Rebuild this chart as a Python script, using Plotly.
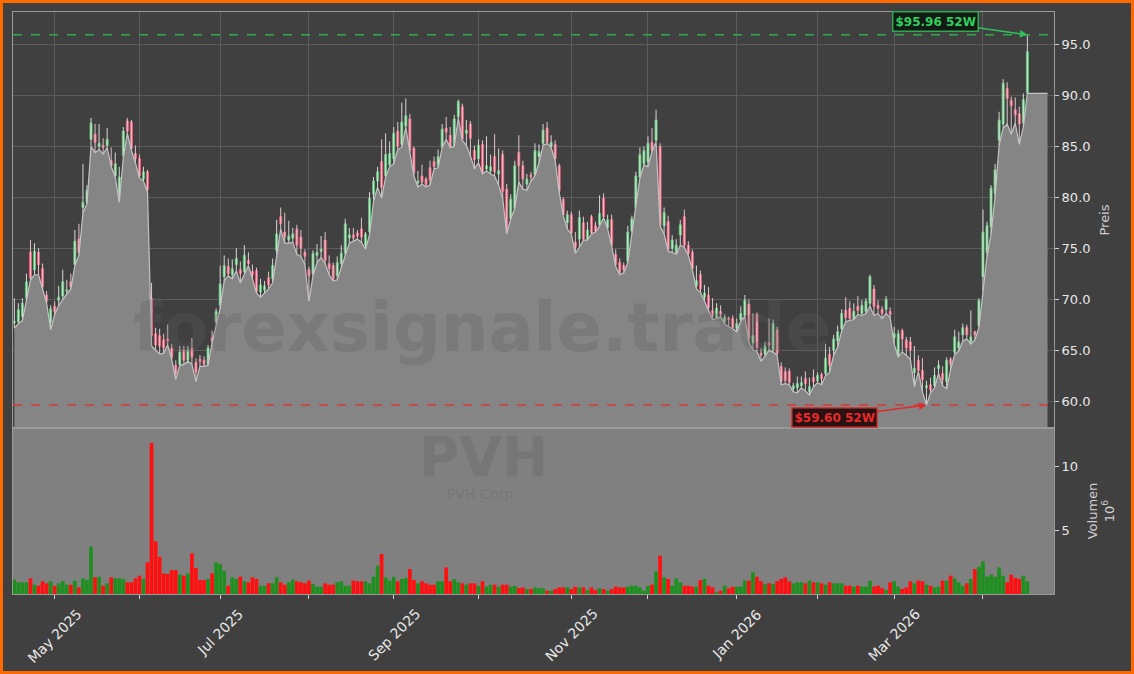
import pandas as pd
import plotly.graph_objects as go

# ---------------- data ----------------
start_date = "2025-04-16"
market_holidays = ["2025-04-18", "2025-05-26", "2025-06-19", "2025-07-04", "2025-09-01",
                   "2025-11-27", "2025-12-25", "2026-01-01", "2026-01-19", "2026-02-16",
                   "2026-04-03"]

opens = [67.7, 67.8, 68.3, 70.1, 74.6, 72.9, 74.6, 73.0, 70.4, 67.75, 69.3, 69.9, 70.3, 70.8, 71.7, 73.4, 75.9, 79.0, 79.5, 85.7,
         86.2, 85.0, 85.1, 85.1, 83.6, 82.1, 80.2, 84.1, 87.5, 87.4, 84.3, 83.8, 81.8, 82.5, 70.1, 66.6, 66.4, 66.0, 66.1, 65.2,
         63.5, 63.6, 65.0, 64.0, 65.2, 63.8, 64.1, 64.0, 63.6, 66.2, 67.8, 69.4, 72.2, 73.2, 72.4, 73.4, 72.9, 72.7, 73.8, 72.7,
         72.8, 70.7, 70.9, 72.1, 72.0, 74.8, 78.1, 76.6, 75.8, 76.0, 76.9, 76.1, 74.6, 72.9, 72.5, 74.3, 74.7, 75.8, 73.5, 73.3,
         72.3, 73.5, 74.5, 76.0, 76.3, 76.5, 76.9, 75.3, 76.6, 80.3, 81.6, 83.5, 82.1, 83.2, 83.8, 86.5, 85.2, 87.0, 87.7, 84.8,
         81.4, 82.1, 81.8, 82.9, 83.5, 83.1, 84.9, 86.8, 86.1, 85.1, 87.9, 88.9, 86.3, 87.2, 84.6, 83.8, 85.2, 82.8, 82.6, 84.0,
         82.3, 84.2, 80.8, 77.9, 78.9, 84.4, 83.1, 81.3, 82.2, 82.2, 84.0, 85.3, 86.8, 85.0, 85.2, 83.1, 79.8, 77.5, 78.3, 75.6,
         75.9, 77.5, 75.9, 78.1, 77.2, 77.3, 79.9, 77.0, 77.8, 74.4, 73.6, 73.3, 73.7, 76.7, 79.0, 82.0, 83.3, 83.5, 85.4, 85.6,
         85.0, 77.2, 77.6, 75.0, 74.6, 76.3, 78.1, 75.3, 74.6, 71.3, 72.4, 70.2, 70.4, 68.9, 68.2, 68.8, 67.8, 68.1, 68.1, 67.1,
         68.0, 68.4, 69.5, 65.7, 68.5, 64.7, 64.6, 65.7, 65.0, 67.0, 63.4, 62.9, 62.9, 61.2, 61.3, 61.5, 62.2, 60.9, 62.3, 62.0,
         62.6, 62.7, 64.6, 65.0, 65.9, 67.1, 68.9, 69.1, 68.1, 69.3, 68.6, 68.8, 69.6, 71.0, 69.4, 69.0, 69.0, 68.8, 66.2, 64.5,
         66.9, 66.0, 65.8, 62.8, 64.0, 63.0, 61.3, 61.6, 61.5, 63.2, 62.7, 61.9, 64.1, 64.8, 65.2, 66.5, 67.2, 65.8, 66.8, 67.4,
         72.2, 74.6, 77.1, 80.4, 85.6, 87.2, 90.7, 89.5, 88.6, 88.2, 87.3, 90.3]
highs = [70.1, 69.6, 70.1, 72.5, 75.8, 75.5, 75.0, 73.5, 70.8, 69.4, 69.8, 71.3, 72.9, 71.9, 72.5, 76.8, 77.4, 83.3, 81.2, 87.8,
         87.2, 87.2, 85.8, 86.8, 84.9, 84.4, 83.0, 86.9, 87.8, 87.6, 85.1, 84.2, 83.0, 82.7, 71.6, 67.2, 67.1, 66.6, 67.5, 65.6,
         64.0, 65.4, 65.4, 65.4, 66.2, 64.2, 64.5, 64.4, 65.5, 66.9, 69.1, 73.3, 74.3, 74.0, 73.9, 75.0, 73.7, 75.3, 74.6, 73.4,
         73.1, 72.0, 71.8, 72.7, 74.0, 77.8, 79.0, 78.5, 77.7, 77.0, 77.3, 76.8, 74.9, 73.2, 74.8, 75.4, 76.2, 76.6, 74.3, 73.6,
         74.2, 75.3, 77.9, 77.0, 77.0, 76.8, 78.0, 76.6, 80.5, 82.0, 83.0, 85.7, 86.3, 85.5, 86.9, 87.4, 89.3, 89.7, 88.2, 85.0,
         82.6, 83.2, 82.0, 83.6, 84.0, 84.7, 87.2, 87.9, 86.9, 88.1, 89.6, 89.2, 87.6, 87.5, 85.1, 85.7, 85.6, 86.0, 84.2, 86.2,
         84.8, 84.6, 81.3, 80.3, 83.6, 86.1, 83.6, 82.3, 82.5, 85.3, 85.2, 87.2, 87.4, 86.1, 85.6, 83.3, 80.0, 78.7, 78.6, 76.6,
         78.7, 78.1, 77.6, 78.3, 77.6, 80.2, 80.4, 78.3, 78.3, 74.9, 74.0, 73.6, 77.2, 78.2, 82.5, 84.9, 85.0, 86.0, 86.8, 88.6,
         85.3, 79.0, 78.2, 76.3, 75.9, 77.8, 78.8, 75.7, 74.9, 73.3, 72.8, 71.4, 71.2, 70.1, 69.6, 69.4, 68.5, 68.3, 68.4, 68.1,
         69.3, 70.4, 70.0, 68.6, 68.7, 65.2, 65.8, 68.1, 68.0, 67.3, 63.8, 63.3, 63.2, 61.8, 62.4, 62.4, 62.9, 62.3, 63.1, 62.8,
         62.8, 65.6, 65.3, 66.5, 67.4, 69.0, 70.2, 69.8, 69.6, 70.3, 69.9, 70.1, 72.4, 71.4, 69.9, 69.3, 70.3, 69.2, 67.3, 67.0,
         67.1, 66.3, 66.3, 65.4, 64.5, 64.2, 62.0, 62.3, 63.3, 64.0, 63.4, 64.3, 64.3, 67.0, 66.8, 67.6, 67.5, 68.9, 66.9, 70.1,
         78.8, 77.6, 81.2, 83.3, 88.4, 91.6, 91.3, 89.9, 89.8, 88.9, 90.2, 95.96]
lows = [67.15, 67.6, 67.9, 69.9, 71.9, 72.4, 72.4, 71.0, 69.6, 67.0, 68.5, 69.4, 70.0, 70.5, 71.0, 73.3, 74.3, 78.5, 79.35, 85.0,
        84.4, 84.7, 84.25, 84.9, 83.0, 82.0, 79.5, 83.9, 86.3, 84.6, 83.4, 81.9, 81.6, 80.5, 65.4, 65.0, 64.6, 64.7, 65.5, 64.1,
        62.1, 63.5, 63.6, 63.9, 63.6, 61.9, 63.4, 63.4, 63.5, 65.7, 67.5, 69.1, 71.8, 72.3, 72.0, 72.8, 71.6, 72.5, 73.3, 72.0,
        70.6, 70.2, 70.6, 71.0, 71.6, 74.3, 76.9, 75.5, 75.5, 75.6, 74.4, 74.2, 73.4, 69.8, 72.3, 73.6, 74.1, 73.5, 72.4, 71.8,
        71.9, 73.1, 74.2, 75.5, 75.7, 75.9, 75.6, 74.9, 76.3, 79.6, 81.0, 79.9, 82.0, 83.0, 83.3, 84.7, 84.9, 86.9, 84.4, 82.1,
        81.0, 81.3, 81.0, 81.2, 82.8, 82.9, 84.9, 85.7, 84.9, 85.0, 87.8, 85.6, 85.1, 84.1, 82.8, 83.4, 82.3, 82.6, 82.3, 82.1,
        81.2, 79.9, 76.4, 77.9, 78.9, 81.5, 80.8, 80.7, 81.6, 82.1, 83.4, 85.1, 85.3, 84.9, 83.6, 80.5, 78.2, 76.9, 76.4, 74.5,
        75.1, 75.8, 75.8, 76.4, 76.6, 77.2, 78.0, 76.9, 75.2, 73.2, 72.4, 72.6, 73.6, 76.5, 78.9, 81.9, 83.2, 83.0, 84.5, 85.4,
        77.2, 76.4, 74.7, 74.6, 74.4, 75.3, 75.1, 74.3, 72.9, 71.0, 70.7, 69.8, 68.9, 68.0, 68.1, 68.3, 67.6, 67.3, 67.1, 66.8,
        67.9, 68.3, 65.8, 65.0, 64.9, 63.9, 64.4, 65.0, 64.8, 64.5, 61.6, 61.7, 61.6, 60.9, 60.8, 61.3, 61.0, 60.6, 61.4, 61.8,
        61.6, 62.5, 62.8, 64.5, 65.3, 66.9, 67.8, 67.9, 68.0, 68.5, 68.4, 68.6, 69.3, 68.4, 68.6, 68.1, 68.6, 68.2, 65.6, 64.3,
        64.8, 64.5, 64.1, 61.4, 62.9, 60.9, 59.6, 60.8, 61.3, 62.7, 61.5, 61.2, 63.1, 64.6, 64.9, 65.9, 66.1, 65.6, 66.0, 67.2,
        70.8, 74.2, 76.4, 80.0, 85.1, 86.8, 87.2, 86.2, 87.3, 85.2, 86.9, 90.2]
closes = [67.8, 68.95, 69.6, 71.7, 72.1, 74.7, 73.4, 71.2, 69.8, 69.05, 68.8, 70.2, 71.7, 70.9, 71.2, 75.7, 74.6, 79.5, 80.7, 87.3,
          85.4, 85.3, 84.9, 85.7, 83.1, 83.3, 82.0, 86.5, 86.5, 84.8, 83.8, 82.1, 82.5, 80.8, 66.4, 65.5, 65.4, 65.2, 65.9, 64.3,
          62.7, 64.8, 64.0, 65.0, 64.3, 62.8, 63.9, 63.6, 65.2, 65.9, 68.8, 71.5, 73.3, 72.5, 73.0, 74.0, 72.5, 74.3, 73.5, 72.4,
          70.7, 71.4, 71.3, 71.4, 73.3, 76.4, 77.4, 76.1, 76.2, 76.4, 75.3, 75.0, 74.2, 72.3, 74.5, 74.6, 74.9, 73.8, 73.0, 72.0,
          73.6, 74.5, 77.4, 76.3, 76.0, 76.2, 76.1, 76.4, 79.9, 81.6, 82.5, 81.0, 84.2, 84.3, 86.3, 85.0, 87.4, 88.0, 84.6, 82.4,
          81.6, 81.5, 81.2, 81.7, 83.0, 84.0, 86.7, 86.4, 85.0, 87.7, 89.4, 85.7, 86.6, 85.8, 83.7, 85.1, 82.5, 83.1, 83.0, 82.5,
          82.6, 80.6, 76.6, 79.8, 83.1, 83.1, 81.8, 81.8, 82.0, 84.6, 84.5, 86.6, 85.4, 85.4, 83.8, 80.6, 78.3, 78.3, 76.5, 75.1,
          78.0, 75.9, 76.8, 76.5, 76.7, 78.4, 78.1, 77.8, 75.3, 73.4, 72.6, 72.9, 76.6, 77.9, 82.1, 84.2, 84.6, 85.3, 84.6, 87.6,
          77.3, 78.5, 74.9, 75.8, 75.3, 77.3, 75.3, 74.5, 73.0, 71.8, 71.0, 70.6, 69.2, 68.4, 69.1, 68.5, 68.2, 68.0, 67.2, 67.6,
          68.6, 69.9, 66.1, 66.4, 65.2, 64.5, 65.4, 65.5, 67.6, 64.7, 61.9, 62.0, 61.8, 61.5, 61.7, 61.8, 61.7, 61.4, 61.9, 62.5,
          62.2, 64.2, 63.5, 66.1, 66.8, 68.6, 68.2, 68.1, 68.8, 68.9, 69.4, 69.8, 72.2, 69.3, 69.1, 68.6, 70.0, 68.5, 66.6, 66.6,
          66.1, 65.2, 65.0, 63.2, 63.0, 62.1, 61.5, 61.1, 62.5, 63.5, 62.1, 64.0, 63.6, 66.3, 65.8, 67.2, 66.5, 66.3, 66.5, 69.9,
          76.6, 77.2, 80.9, 82.7, 87.6, 91.2, 89.7, 89.0, 88.1, 87.2, 89.6, 94.3]
volume_mio = [1.13, 0.92, 0.92, 0.92, 1.23, 0.73, 0.65, 1.0, 0.84, 1.0, 0.65, 0.84, 1.0, 0.73, 0.73, 1.05, 0.52, 1.23, 1.1, 3.74,
              1.31, 1.36, 0.65, 0.84, 1.31, 1.23, 1.23, 1.18, 0.92, 0.92, 1.23, 1.44, 1.18, 2.49, 11.86, 4.14, 2.93, 1.62, 1.57, 1.88,
              1.88, 1.52, 1.44, 1.62, 3.19, 2.04, 1.1, 1.1, 1.18, 1.62, 2.49, 2.36, 1.83, 0.65, 1.31, 1.18, 1.36, 1.0, 0.92, 1.31,
              1.18, 0.65, 0.65, 0.84, 0.84, 1.31, 0.92, 0.73, 0.92, 1.13, 1.0, 0.92, 0.84, 1.05, 0.79, 0.58, 0.58, 0.84, 0.73, 0.73,
              0.92, 1.0, 0.65, 0.65, 1.05, 1.0, 1.0, 1.0, 0.84, 1.36, 2.23, 3.14, 1.31, 1.05, 1.36, 1.0, 1.18, 1.26, 1.96, 1.1,
              0.84, 1.0, 0.84, 0.73, 0.73, 1.0, 1.0, 2.09, 1.0, 1.18, 0.92, 0.84, 0.73, 0.84, 0.84, 0.65, 1.0, 0.58, 0.73, 0.73,
              0.58, 0.73, 0.73, 0.58, 0.65, 0.47, 0.52, 0.39, 0.39, 0.52, 0.45, 0.45, 0.26, 0.26, 0.39, 0.52, 0.52, 0.52, 0.39, 0.58,
              0.52, 0.52, 0.31, 0.52, 0.31, 0.45, 0.39, 0.26, 0.39, 0.58, 0.52, 0.52, 0.58, 0.65, 0.65, 0.52, 0.26, 0.65, 0.73, 1.78,
              3.01, 1.31, 1.18, 0.65, 1.23, 0.92, 0.65, 0.65, 0.58, 0.58, 1.1, 1.18, 0.65, 0.52, 0.13, 0.26, 0.65, 0.45, 0.58, 0.58,
              0.58, 1.05, 1.05, 1.7, 1.36, 1.0, 0.79, 0.84, 0.79, 1.0, 1.18, 1.31, 1.0, 0.84, 0.92, 0.92, 0.84, 1.05, 0.92, 0.92,
              0.84, 0.73, 0.92, 0.84, 0.84, 0.84, 0.65, 0.65, 0.58, 0.65, 0.58, 0.58, 1.05, 0.58, 0.65, 0.45, 0.31, 0.92, 1.0, 0.58,
              0.39, 0.52, 1.0, 0.84, 1.05, 1.0, 0.73, 0.65, 0.52, 0.58, 1.05, 1.05, 1.44, 1.23, 0.92, 0.65, 0.84, 1.18, 1.96, 2.15,
              2.57, 1.36, 1.52, 1.36, 2.09, 1.44, 0.92, 1.52, 1.26, 1.18, 1.44, 1.0]
high_52w = 95.96
low_52w = 59.60
price_ticks = [60, 65, 70, 75, 80, 85, 90, 95]
volume_ticks = [5, 10]

# ---------------- derived ----------------
n = len(closes)
dates = pd.bdate_range(start=start_date, periods=n, freq="C", holidays=market_holidays)
idx = list(range(n))

month_starts = []
prev = None
for i, d in enumerate(dates):
    key = (d.year, d.month)
    if prev is not None and key != prev:
        month_starts.append(i)
    prev = key
major_ticks = [i for i in month_starts if dates[i].month % 2 == 1]
major_text = [dates[i].strftime("%b %Y") for i in major_ticks]
minor_ticks = [i for i in month_starts if dates[i].month % 2 == 0]

body_hi = [max(o, c) for o, c in zip(opens, closes)]
body_lo = [min(o, c) for o, c in zip(opens, closes)]
vol_colors = ["#1f8f1f" if c >= o else "#ff1010" for o, c in zip(opens, closes)]
area_x = idx + [n - 1 + 5]
area_y = lows + [lows[-1]]
hi_i = highs.index(max(highs))
lo_i = lows.index(min(lows))

BG = "#404040"
FILL = "#858585"
GRID = "#5c5c5c"
TXT = "#e8e8e8"
FONT = "DejaVu Sans"

fig = go.Figure()
fig.add_trace(go.Scatter(x=area_x, y=area_y, mode="lines", fill="tozeroy", fillcolor=FILL,
                         line=dict(color="#c4c4c4", width=1.2), hoverinfo="skip"))
fig.add_trace(go.Ohlc(x=idx, open=opens, high=highs, low=lows, close=closes, tickwidth=0,
                      increasing=dict(line=dict(color="#d6d6d6", width=1)),
                      decreasing=dict(line=dict(color="#e0c4ca", width=1))))
fig.add_trace(go.Candlestick(x=idx, open=opens, high=body_hi, low=body_lo, close=closes,
                             increasing=dict(line=dict(color="#4cc46a", width=1), fillcolor="#c6ecca"),
                             decreasing=dict(line=dict(color="#f05a78", width=1), fillcolor="#f6a3b4"),
                             whiskerwidth=0))
fig.add_trace(go.Bar(x=idx, y=volume_mio, marker=dict(color=vol_colors, line=dict(width=0)),
                     width=0.92, xaxis="x2", yaxis="y2"))

W, H = 1134, 674
ml, mr, mt, mb = 13, 80, 12, 80
pw, ph = W - ml - mr, H - mt - mb
split = 166 / ph

fig.update_layout(
    template="none",
    width=W, height=H, margin=dict(l=ml, r=mr, t=mt, b=mb, autoexpand=False),
    paper_bgcolor=BG, plot_bgcolor=BG, showlegend=False,
    font=dict(family=FONT, color=TXT, size=13),
    xaxis=dict(domain=[0, 1], anchor="y", range=[-0.33, 257.6], tickvals=major_ticks,
               showticklabels=False, ticks="", showgrid=True, gridcolor=GRID, gridwidth=1,
               minor=dict(tickvals=minor_ticks, showgrid=True, gridcolor=GRID, gridwidth=1, ticks=""),
               zeroline=False, showline=True, linecolor="#9a9a9a", mirror=True, automargin=False,
               rangeslider=dict(visible=False)),
    yaxis=dict(domain=[split, 1], anchor="x", side="right", range=[57.35, 98.2],
               tickvals=price_ticks, tickformat=".1f", ticks="outside", ticklen=4,
               tickcolor="#d0d0d0", tickfont=dict(size=13, color=TXT),
               showgrid=True, gridcolor=GRID, zeroline=False, showline=True,
               linecolor="#9a9a9a", mirror=True, automargin=False,
               title=dict(text="Preis", font=dict(size=13, color="#cfcfcf"), standoff=10)),
    xaxis2=dict(domain=[0, 1], anchor="y2", matches="x", range=[-0.33, 257.6],
                tickvals=major_ticks, showticklabels=False,
                ticks="outside", ticklen=4, tickcolor="#d0d0d0",
                minor=dict(tickvals=minor_ticks, ticks="outside", ticklen=4, tickcolor="#d0d0d0",
                           showgrid=False),
                showgrid=False, zeroline=False,
                showline=True, linecolor="#9a9a9a", mirror=True, automargin=False,
                rangeslider=dict(visible=False)),
    yaxis2=dict(domain=[0, split], anchor="x2", side="right", range=[0, 13.04],
                tickvals=volume_ticks, ticks="outside", ticklen=4, tickcolor="#d0d0d0",
                tickfont=dict(size=13, color=TXT), showgrid=False, zeroline=False,
                showline=True, linecolor="#9a9a9a", mirror=True, automargin=False,
                title=dict(text="Volumen<br>10<sup>6</sup>", font=dict(size=13, color="#cfcfcf"),
                           standoff=10)),
)

# date labels, centred under their ticks (rotated 45 degrees)
for tv, tt in zip(major_ticks, major_text):
    fig.add_annotation(x=tv, xref="x2", y=-9 / ph, yref="paper", text=tt, showarrow=False,
                       textangle=-45, xanchor="center", yanchor="top",
                       font=dict(size=14, color=TXT, family=FONT))

# volume panel background
fig.add_shape(type="rect", xref="paper", yref="paper", x0=0, x1=1, y0=0, y1=split,
              fillcolor="#808080", line=dict(width=0), layer="below")
# 52W lines
fig.add_shape(type="line", xref="paper", yref="y", x0=0, x1=1, y0=high_52w, y1=high_52w,
              line=dict(color="#2fa84f", width=1.5, dash="dash"))
fig.add_shape(type="line", xref="paper", yref="y", x0=0, x1=1, y0=low_52w, y1=low_52w,
              line=dict(color="#d23a3a", width=1.5, dash="dash"))
# outer orange frame
fig.add_shape(type="rect", xref="paper", yref="paper",
              x0=-(ml - 1.5) / pw, x1=1 + (mr - 1.5) / pw,
              y0=-(mb - 1.5) / ph, y1=1 + (mt - 1.5) / ph,
              line=dict(color="#ff6a00", width=3))

# watermarks
wm = "rgba(95,95,95,0.28)"
fig.add_annotation(xref="paper", yref="paper", x=(482 - ml) / pw, y=(594 - 328) / ph,
                   xanchor="center", yanchor="middle",
                   text="<b>forexsignale.trade</b>", showarrow=False,
                   font=dict(size=67, color=wm, family=FONT))
fig.add_annotation(xref="paper", yref="paper", x=(483 - ml) / pw, y=(594 - 457) / ph,
                   xanchor="center", yanchor="middle",
                   text="<b>PVH</b>", showarrow=False, font=dict(size=55, color=wm, family=FONT))
fig.add_annotation(xref="paper", yref="paper", x=(480 - ml) / pw, y=(594 - 494) / ph,
                   xanchor="center", yanchor="middle",
                   text="PVH Corp", showarrow=False, font=dict(size=14, color=wm, family=FONT))

# 52W annotations
fig.add_annotation(x=hi_i, y=high_52w, xref="x", yref="y", text=f"<b>${high_52w:.2f} 52W</b>",
                   showarrow=True, arrowhead=2, arrowsize=1, arrowwidth=1.5, arrowcolor="#2fc25a",
                   ax=-92, ay=-13, font=dict(size=12, color="#2fd060", family=FONT),
                   bgcolor="#141a14", bordercolor="#2fa84f", borderwidth=1.5, borderpad=2)
fig.add_annotation(x=lo_i, y=low_52w, xref="x", yref="y", text=f"<b>${low_52w:.2f} 52W</b>",
                   showarrow=True, arrowhead=2, arrowsize=1, arrowwidth=1.5, arrowcolor="#e02a2a",
                   ax=-92, ay=12, font=dict(size=12, color="#e82a2a", family=FONT),
                   bgcolor="#2a1212", bordercolor="#d23a3a", borderwidth=1.5, borderpad=2)

fig.write_html("out.html", config={"displayModeBar": False},
               post_script="document.body.style.margin='0';document.body.style.overflow='hidden';")
